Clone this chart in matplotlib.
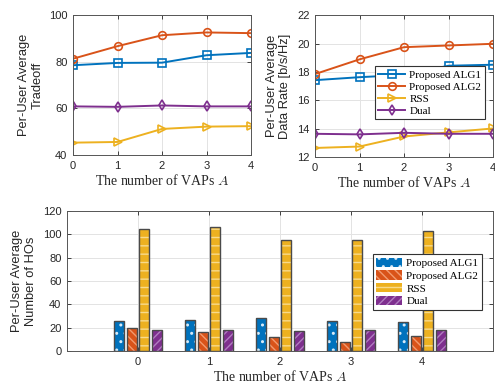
import numpy as np
import matplotlib
matplotlib.use("Agg")
import matplotlib.pyplot as plt
from matplotlib.patches import Patch

plt.rcParams["font.family"] = ["Liberation Sans", "DejaVu Sans"]
plt.rcParams["mathtext.fontset"] = "cm"
plt.rcParams["hatch.linewidth"] = 1.0

# data
vaps = [0, 1, 2, 3, 4]
names = ["Proposed ALG1", "Proposed ALG2", "RSS", "Dual"]

tradeoff_alg1 = [78.6, 79.6, 79.7, 82.9, 83.9]
tradeoff_alg2 = [81.4, 86.8, 91.5, 92.7, 92.4]
tradeoff_rss = [45.3, 45.6, 51.2, 52.2, 52.4]
tradeoff_dual = [60.9, 60.7, 61.3, 60.9, 60.9]

rate_alg1 = [17.43, 17.64, 17.8, 18.45, 18.52]
rate_alg2 = [17.86, 18.9, 19.76, 19.88, 20.0]
rate_rss = [12.64, 12.74, 13.45, 13.74, 14.02]
rate_dual = [13.64, 13.6, 13.71, 13.64, 13.64]

ho_alg1 = [25.7, 26.3, 28.0, 25.4, 25.1]
ho_alg2 = [19.4, 16.3, 12.2, 7.7, 12.9]
ho_rss = [104.9, 106.0, 95.2, 95.2, 102.9]
ho_dual = [18.3, 18.0, 17.4, 18.3, 18.0]

colors = ["#0072BD", "#D95319", "#EDB120", "#7E2F8E"]
hatch_colors = ["#d6eaf8", "#f29a6e", "#f8da8a", "#b07cc0"]
hatches = ["..", "\\\\\\\\", "--", "////"]
markers = ["s", "o", ">", "d"]

tick_col = "#262626"
serif = ["Liberation Serif", "DejaVu Serif"]


def style_axes(ax):
    ax.grid(True, color="#e3e3e3", linewidth=0.7)
    ax.set_axisbelow(True)
    for s in ax.spines.values():
        s.set_color("#555555")
        s.set_linewidth(0.7)
    ax.tick_params(direction="in", length=3, width=0.6, labelsize=8,
                   colors=tick_col, pad=4, top=True, right=True)


fig = plt.figure(figsize=(4.95, 3.84), dpi=100)

ax1 = fig.add_axes([0.1475, 0.5964, 0.3596, 0.3633])
ax2 = fig.add_axes([0.6364, 0.5911, 0.3596, 0.3686])
ax3 = fig.add_axes([0.1354, 0.0859, 0.8606, 0.3646])

for ax, series, ylim, yticks, ylabel in [
    (ax1, [tradeoff_alg1, tradeoff_alg2, tradeoff_rss, tradeoff_dual],
     (40, 100), [40, 60, 80, 100], "Per-User Average\nTradeoff"),
    (ax2, [rate_alg1, rate_alg2, rate_rss, rate_dual],
     (12, 22), [12, 14, 16, 18, 20, 22], "Per-User Average\nData Rate [b/s/Hz]"),
]:
    for vals, c, m, n in zip(series, colors, markers, names):
        ax.plot(vaps, vals, color=c, marker=m, markersize=5.5,
                markerfacecolor="none", markeredgewidth=1.2,
                linewidth=1.4, label=n)
    ax.set_xlim(0, 4)
    ax.set_ylim(*ylim)
    ax.set_xticks(vaps)
    ax.set_yticks(yticks)
    style_axes(ax)
    ax.set_ylabel(ylabel, fontsize=9.3, color=tick_col, labelpad=4)
    ax.set_xlabel("The number of VAPs $A$", fontsize=10, family=serif,
                  color=tick_col, labelpad=2)

leg = ax2.legend(loc="upper left", bbox_to_anchor=(0.337, 0.64),
                 prop={"family": serif, "size": 8}, handlelength=2.4,
                 fancybox=False, framealpha=1, edgecolor="#333333",
                 borderpad=0.3, labelspacing=0.2, handletextpad=0.4,
                 borderaxespad=0)
leg.get_frame().set_linewidth(0.8)

# bottom: grouped bars
x = np.arange(len(vaps))
width = 0.14
offsets = [-0.27, -0.09, 0.09, 0.27]
for vals, c, hc, h, off in zip([ho_alg1, ho_alg2, ho_rss, ho_dual],
                               colors, hatch_colors, hatches, offsets):
    ax3.bar(x + off, vals, width, color=c, edgecolor=hc, hatch=h,
            linewidth=0, zorder=2)
    ax3.bar(x + off, vals, width, fill=False, edgecolor="#4a4a4a",
            linewidth=1.0, zorder=3)

ax3.set_xlim(-1, 5)
ax3.set_ylim(0, 120)
ax3.set_xticks(x)
ax3.set_xticklabels([str(v) for v in vaps])
ax3.set_yticks(np.arange(0, 121, 20))
style_axes(ax3)
ax3.set_ylabel("Per-User Average\nNumber of HOs", fontsize=9.3,
               color=tick_col, labelpad=4)
ax3.set_xlabel("The number of VAPs $A$", fontsize=10, family=serif,
               color=tick_col, labelpad=2)

handles = [Patch(facecolor=c, edgecolor=hc, hatch=h, linewidth=0)
           for c, hc, h in zip(colors, hatch_colors, hatches)]
leg3 = ax3.legend(handles, names, loc="upper left",
                  bbox_to_anchor=(0.718, 0.69),
                  prop={"family": serif, "size": 8}, handlelength=2.3,
                  handleheight=0.9, fancybox=False, framealpha=1,
                  edgecolor="#333333", borderpad=0.3, labelspacing=0.2,
                  handletextpad=0.4, borderaxespad=0)
leg3.get_frame().set_linewidth(0.8)

fig.savefig("out.png", dpi=100)
